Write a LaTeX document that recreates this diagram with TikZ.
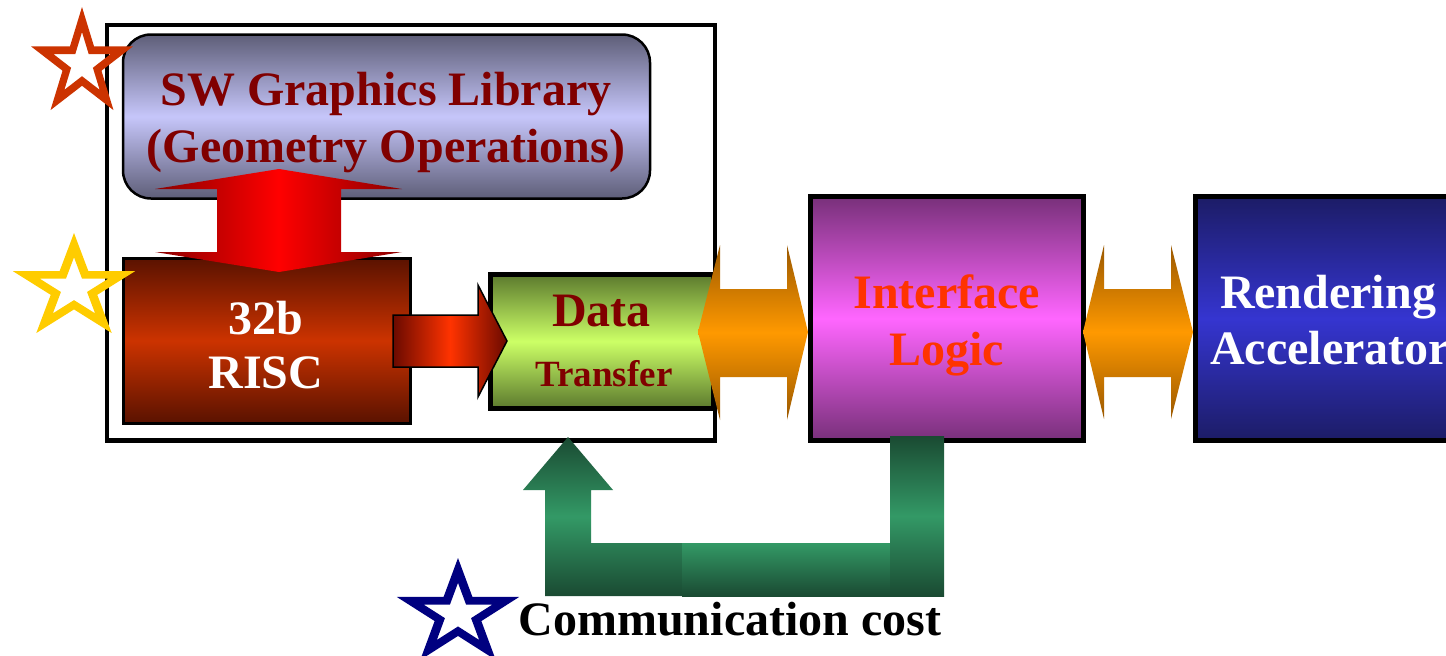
\documentclass[tikz,border=0pt]{standalone}
\usepackage{fontspec}
\setmainfont{Liberation Serif}
\definecolor{swdk}{HTML}{5E5E78}
\definecolor{swlt}{HTML}{C6C6FA}
\definecolor{riscdk}{HTML}{5A1200}
\definecolor{risclt}{HTML}{CC3300}
\definecolor{datadk}{HTML}{5C7A2E}
\definecolor{datalt}{HTML}{CCFF66}
\definecolor{ifdk}{HTML}{78307A}
\definecolor{iflt}{HTML}{FF66FF}
\definecolor{rndk}{HTML}{1C1C66}
\definecolor{rnlt}{HTML}{3535D0}
\definecolor{ordk}{HTML}{9A5800}
\definecolor{orlt}{HTML}{FF9900}
\definecolor{rddk}{HTML}{8A0000}
\definecolor{rdlt}{HTML}{FF0000}
\definecolor{rrdk}{HTML}{6A0A00}
\definecolor{rrlt}{HTML}{FF3300}
\definecolor{gdk}{HTML}{1A4A32}
\definecolor{glt}{HTML}{339966}
\definecolor{txtred}{HTML}{800000}
\definecolor{iftxt}{HTML}{FF3300}
\definecolor{starred}{HTML}{CC3300}
\definecolor{staryel}{HTML}{FFCC00}
\definecolor{starblue}{HTML}{000080}
\newcommand{\mystar}[5]{%
  \fill[#5, even odd rule, shift={(#1,#2)}, xscale=#4]
   (270:#3) -- (306:{0.382*#3}) -- (342:#3) -- (18:{0.382*#3}) -- (54:#3) --
   (90:{0.382*#3}) -- (126:#3) -- (162:{0.382*#3}) -- (198:#3) -- (234:{0.382*#3}) -- cycle
   (270:{0.56*#3}) -- (306:{0.382*0.56*#3}) -- (342:{0.56*#3}) -- (18:{0.382*0.56*#3}) -- (54:{0.56*#3}) --
   (90:{0.382*0.56*#3}) -- (126:{0.56*#3}) -- (162:{0.382*0.56*#3}) -- (198:{0.56*#3}) -- (234:{0.382*0.56*#3}) -- cycle;}
\tikzset{
  blk/.style={draw=black, inner sep=0pt, outer sep=0pt},
  bigtext/.style={font=\bfseries\fontsize{48}{57}\selectfont, inner sep=0pt, anchor=base},
  midtext/.style={font=\bfseries\fontsize{37}{44}\selectfont, inner sep=0pt, anchor=base},
  vgrad/.style 2 args={top color=#1, bottom color=#1, middle color=#2},
  hgrad/.style 2 args={left color=#1, right color=#1, middle color=#2}
}
\begin{document}
\begin{tikzpicture}[x=1pt, y=-1pt]
\useasboundingbox (0,0) rectangle (1446,656);
\clip (0,0) rectangle (1446,656);
\fill[white] (0,0) rectangle (1446,656);

% boxes
\node[blk, fill=white, line width=4.5pt, minimum width=608pt, minimum height=415.5pt] (outer) at (411,232.75) {};
\node[blk, line width=2.5pt, rounded corners=28pt, vgrad={swdk}{swlt}, minimum width=527pt, minimum height=164pt] (sw) at (386.5,116.5) {};
\node[blk, line width=3pt, vgrad={riscdk}{risclt}, minimum width=287pt, minimum height=165pt] (risc) at (266.5,340.5) {};
\node[blk, line width=5pt, vgrad={datadk}{datalt}, minimum width=222.5pt, minimum height=133.5pt] (data) at (601.75,341.25) {};
\node[blk, line width=5pt, vgrad={ifdk}{iflt}, minimum width=273pt, minimum height=244pt] (iface) at (947,318.5) {};
\node[blk, line width=5pt, vgrad={rndk}{rnlt}, minimum width=270pt, minimum height=244pt] (rend) at (1330,318.5) {};

% red vertical double arrow
\shade[hgrad={rddk}{rdlt}] (279,169) -- (402,189) -- (341,189) -- (341,252) -- (402,252) -- (279,272)
  -- (155,252) -- (217,252) -- (217,189) -- (155,189) -- cycle;

% red right arrow
\shade[draw=black, line width=1.5pt, line join=miter, hgrad={rrdk}{rrlt}] (393,315) -- (478,315) -- (478,285) -- (507,341)
  -- (478,397) -- (478,367) -- (393,367) -- cycle;

% orange double arrows
\shade[vgrad={ordk}{orlt}] (698,332) -- (720,245) -- (720,289) -- (787,289) -- (787,245) -- (808,332)
  -- (787,420) -- (787,377) -- (720,377) -- (720,420) -- cycle;
\shade[vgrad={ordk}{orlt}] (1083,332) -- (1104,245) -- (1104,289) -- (1171,289) -- (1171,245) -- (1193,332)
  -- (1171,419) -- (1171,377) -- (1104,377) -- (1104,419) -- cycle;

% green feedback arrow
\shade[vgrad={gdk}{glt}] (568,437) -- (613,490) -- (591,490) -- (591,543) -- (682,543) -- (682,596)
  -- (545,596) -- (545,490) -- (523,490) -- cycle;
\shade[top color=glt, bottom color=gdk] (682,543) rectangle (890,596);
\shade[vgrad={gdk}{glt}] (890,436) rectangle (944,596);

% texts
\node[bigtext, text=txtred] (sw1) at (386,105) {SW Graphics Library};
\node[bigtext, text=txtred] (sw2) at (386,162) {(Geometry Operations)};
\node[bigtext, text=white] (risc1) at (266,334) {32b};
\node[bigtext, text=white] (risc2) at (266,388) {RISC};
\node[bigtext, text=txtred] (data1) at (601.5,326) {Data};
\node[midtext, text=txtred] (data2) at (604,386) {Transfer};
\node[bigtext, text=iftxt] (if1) at (946.7,308) {Interface};
\node[bigtext, text=iftxt] (if2) at (946.7,365) {Logic};
\node[bigtext, text=white] (rn1) at (1328,308) {Rendering};
\node[bigtext, text=white, anchor=base west] (rn2) at (1210,364) {Accelerator};
\node[bigtext, text=black] (cost) at (730,635) {Communication cost};

% stars
\mystar{82}{64}{57}{0.94}{starred}
\mystar{74}{288.3}{55.3}{1.16}{staryel}
\mystar{458}{614.4}{56.4}{1.14}{starblue}
\end{tikzpicture}
\end{document}
